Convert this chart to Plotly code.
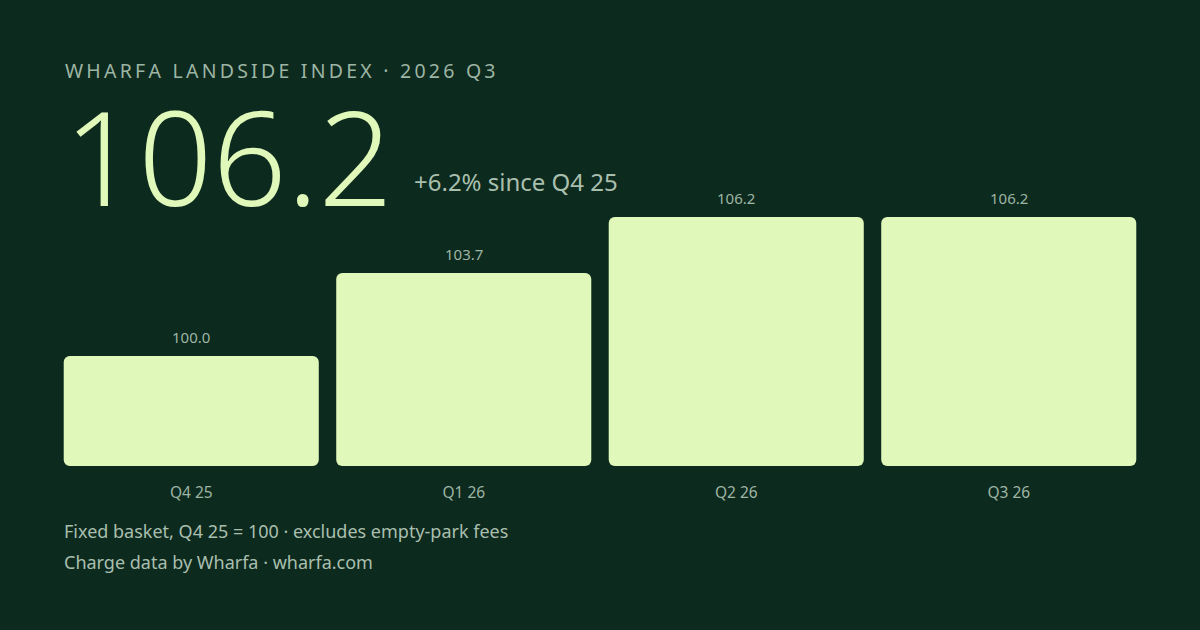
import plotly.graph_objects as go

categories = ["Q4 25", "Q1 26", "Q2 26", "Q3 26"]
values = [100.0, 103.7, 106.2, 106.2]
value_labels = ["100.0", "103.7", "106.2", "106.2"]

title_text = "WHARFA LANDSIDE INDEX · 2026 Q3"
headline = "106.2"
change_text = "+6.2% since Q4 25"
footer_1 = "Fixed basket, Q4 25 = 100 · excludes empty-park fees"
footer_2 = "Charge data by Wharfa · wharfa.com"

BG = "#0d2a1e"
BAR = "#e0f8b9"
MUTED = "#9db5a4"
FONT = "Noto Sans"

base = 95.094
top = 106.958

fig = go.Figure()
fig.add_trace(go.Bar(
    x=categories,
    y=[v - base for v in values],
    base=base,
    marker=dict(color=BAR, line=dict(width=0)),
    hoverinfo="skip",
))

annotations = []
for c, v, t in zip(categories, values, value_labels):
    annotations.append(dict(x=c, y=v, xref="x", yref="y", text=t, showarrow=False,
                            yanchor="bottom", yshift=7,
                            font=dict(family=FONT, size=15, color=MUTED)))

def spaced(s):
    return "\u2009".join(list(s))

annotations += [
    dict(x=63/1200, y=(630-70)/630, xref="paper", yref="paper", xanchor="left", yanchor="middle",
         text=spaced(title_text), showarrow=False,
         font=dict(family=FONT, size=19.5, color=MUTED)),
    dict(x=62/1200, y=(630-155)/630, xref="paper", yref="paper", xanchor="left", yanchor="middle",
         text=headline, showarrow=False,
         font=dict(family=FONT, size=130, color=BAR, weight=300)),
    dict(x=412/1200, y=(630-182)/630, xref="paper", yref="paper", xanchor="left", yanchor="middle",
         text=change_text, showarrow=False,
         font=dict(family=FONT, size=24, color="#a9bfae")),
    dict(x=62/1200, y=(630-531)/630, xref="paper", yref="paper", xanchor="left", yanchor="middle",
         text=footer_1, showarrow=False,
         font=dict(family=FONT, size=18, color="#a9bfae")),
    dict(x=62/1200, y=(630-562)/630, xref="paper", yref="paper", xanchor="left", yanchor="middle",
         text=footer_2, showarrow=False,
         font=dict(family=FONT, size=18, color="#a9bfae")),
]

fig.update_layout(
    width=1200, height=630,
    margin=dict(l=0, r=0, t=0, b=0),
    paper_bgcolor=BG, plot_bgcolor=BG,
    bargap=0.064,
    barcornerradius=6,
    showlegend=False,
    xaxis=dict(domain=[55/1200, 1145/1200], showgrid=False, zeroline=False, showline=False,
               ticks="", tickfont=dict(family=FONT, size=15.5, color=MUTED),
               ticklabelstandoff=15, fixedrange=True),
    yaxis=dict(domain=[(630-466)/630, (630-200)/630], range=[base, top], visible=False,
               fixedrange=True),
    annotations=annotations,
)

fig.write_html("out.html", config={"displayModeBar": False},
               post_script="document.body.style.margin='0';document.body.style.background='" + BG + "';")
